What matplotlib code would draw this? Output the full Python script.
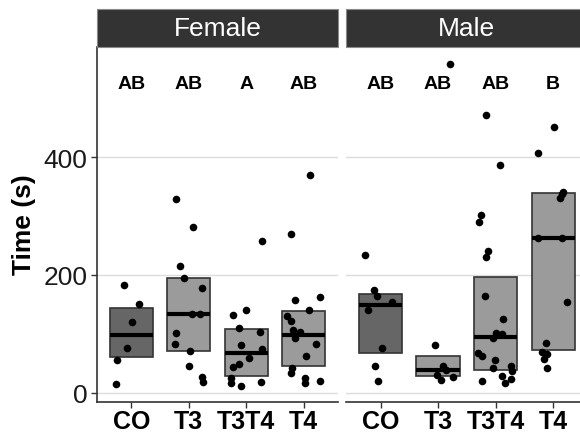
import matplotlib
matplotlib.use('Agg')
import matplotlib.pyplot as plt
from matplotlib.patches import Rectangle

plt.rcParams['font.family'] = ['Liberation Sans', 'DejaVu Sans']

# ---------------- data ----------------
groups = ['CO', 'T3', 'T3T4', 'T4']
panels = ['Female', 'Male']

female_letters = ['AB', 'AB', 'A', 'AB']
male_letters = ['AB', 'AB', 'AB', 'B']

female_box_low = [60, 71, 29, 46]
female_box_mid = [97, 133, 67, 97]
female_box_high = [143, 194, 108, 139]

male_box_low = [67, 28, 38, 72]
male_box_mid = [148, 38, 94, 262]
male_box_high = [167, 63, 197, 339]

female_CO = [183, 150, 120, 75, 55, 15]
female_CO_jit = [-0.12, 0.13, 0.01, -0.07, -0.24, -0.27]
female_T3 = [328, 281, 215, 194, 177, 134, 133, 102, 82, 71, 46, 26, 18]
female_T3_jit = [-0.23, 0.07, -0.15, -0.08, 0.23, 0.05, 0.20, -0.23, -0.24, 0.03, 0.01, 0.23, 0.25]
female_T3T4 = [257, 141, 132, 110, 103, 80, 74, 59, 49, 44, 25, 16, 11, 18]
female_T3T4_jit = [0.28, 0.0, -0.23, -0.13, 0.24, -0.09, 0.28, 0.05, -0.12, -0.23, -0.27, -0.27, -0.10, 0.26]
female_T4 = [369, 269, 162, 157, 141, 130, 122, 106, 103, 92, 83, 63, 41, 33, 25, 17, 19]
female_T4_jit = [0.10, -0.23, 0.29, -0.16, 0.09, -0.29, -0.23, -0.19, -0.07, -0.16, 0.21, 0.03, -0.21, -0.22, 0.02, 0.02, 0.28]

male_CO = [233, 175, 164, 154, 141, 75, 45, 20]
male_CO_jit = [-0.27, -0.11, -0.06, 0.20, -0.22, 0.02, -0.10, -0.05]
male_T3 = [558, 81, 45, 38, 30, 27, 21]
male_T3_jit = [0.20, -0.06, 0.09, 0.14, -0.02, 0.26, 0.06]
male_T3T4 = [472, 387, 302, 289, 241, 230, 164, 125, 102, 100, 93, 68, 62, 55, 41, 45, 36, 28, 23, 16, 19]
male_T3T4_jit = [-0.17, 0.08, -0.26, -0.28, -0.14, -0.17, -0.19, 0.13, 0.0, 0.12, -0.05, -0.30, -0.23, -0.01, -0.05, 0.26, 0.28, 0.12, 0.26, 0.16, -0.24]
male_T4 = [451, 406, 341, 337, 330, 262, 262, 154, 84, 69, 66, 57, 42]
male_T4_jit = [0.02, -0.26, 0.17, 0.15, 0.12, -0.26, 0.16, 0.24, -0.12, -0.20, -0.10, -0.15, -0.11]

female_points = [(female_CO, female_CO_jit), (female_T3, female_T3_jit),
                 (female_T3T4, female_T3T4_jit), (female_T4, female_T4_jit)]
male_points = [(male_CO, male_CO_jit), (male_T3, male_T3_jit),
               (male_T3T4, male_T3T4_jit), (male_T4, male_T4_jit)]

yticks = [0, 200, 400]
letter_y = 524

# ---------------- figure ----------------
W, H = 580, 435
fig = plt.figure(figsize=(W / 100, H / 100), dpi=100)


def px_axes(l, t, w, h):
    return fig.add_axes([l / W, 1 - (t + h) / H, w / W, h / H])


panel_top, panel_h, panel_w = 48, 354.5, 241.6
lefts = [96.7, 346]
axes = [px_axes(l, panel_top, panel_w, panel_h) for l in lefts]

box_fill = ['#666666', '#9b9b9b', '#9b9b9b', '#9b9b9b']
data = [(female_box_low, female_box_mid, female_box_high, female_points, female_letters),
        (male_box_low, male_box_mid, male_box_high, male_points, male_letters)]

for k, (ax, (lo, mid, hi, pts, letters)) in enumerate(zip(axes, data)):
    ax.set_xlim(0.4, 4.6)
    ax.set_ylim(-15.1, 586.8)
    ax.set_yticks(yticks)
    ax.yaxis.grid(True, color='#dcdcdc', lw=1.0)
    ax.set_axisbelow(True)
    hw = 0.375
    for i in range(len(groups)):
        x = i + 1
        ax.add_patch(Rectangle((x - hw, lo[i]), 2 * hw, hi[i] - lo[i],
                               facecolor=box_fill[i], edgecolor='#333333', lw=1.2, zorder=2))
        ax.plot([x - hw, x + hw], [mid[i], mid[i]], color='black', lw=3,
                solid_capstyle='butt', zorder=3)
        vals, jit = pts[i]
        ax.scatter([x + j for j in jit], vals, s=30, color='black', zorder=4,
                   linewidths=0, clip_on=False)
        ax.text(x, letter_y, letters[i], ha='center', va='center',
                fontsize=14, fontweight='bold', color='black')
    ax.set_xticks(range(1, len(groups) + 1))
    ax.set_xticklabels(groups, fontsize=18, fontweight='bold', color='black')
    ax.tick_params(axis='x', length=4, width=1, color='#333333', pad=1.5)
    for s in ['top', 'right']:
        ax.spines[s].set_visible(False)
    ax.spines['bottom'].set_color('#333333')
    ax.spines['bottom'].set_linewidth(1.2)
    if k == 0:
        ax.spines['left'].set_color('#333333')
        ax.spines['left'].set_linewidth(1.2)
        ax.set_yticklabels([str(v) for v in yticks], fontsize=19, color='#1a1a1a')
        ax.tick_params(axis='y', length=4, width=1, color='#333333', pad=2.5)
    else:
        ax.spines['left'].set_visible(False)
        ax.tick_params(axis='y', left=False, labelleft=False)

    # strip
    fig.patches.append(Rectangle((lefts[k] / W, 1 - panel_top / H), panel_w / W, 38 / H,
                                 transform=fig.transFigure, facecolor='#333333',
                                 edgecolor='#8a8a8a', lw=0.8))
    fig.text((lefts[k] + panel_w / 2) / W, 1 - 29 / H, panels[k], color='white',
             fontsize=19, ha='center', va='center')

fig.text(24 / W, 1 - 225 / H, 'Time (s)', rotation=90, ha='center', va='center',
         fontsize=19, fontweight='bold', color='black')

fig.savefig('out.png', dpi=100)
